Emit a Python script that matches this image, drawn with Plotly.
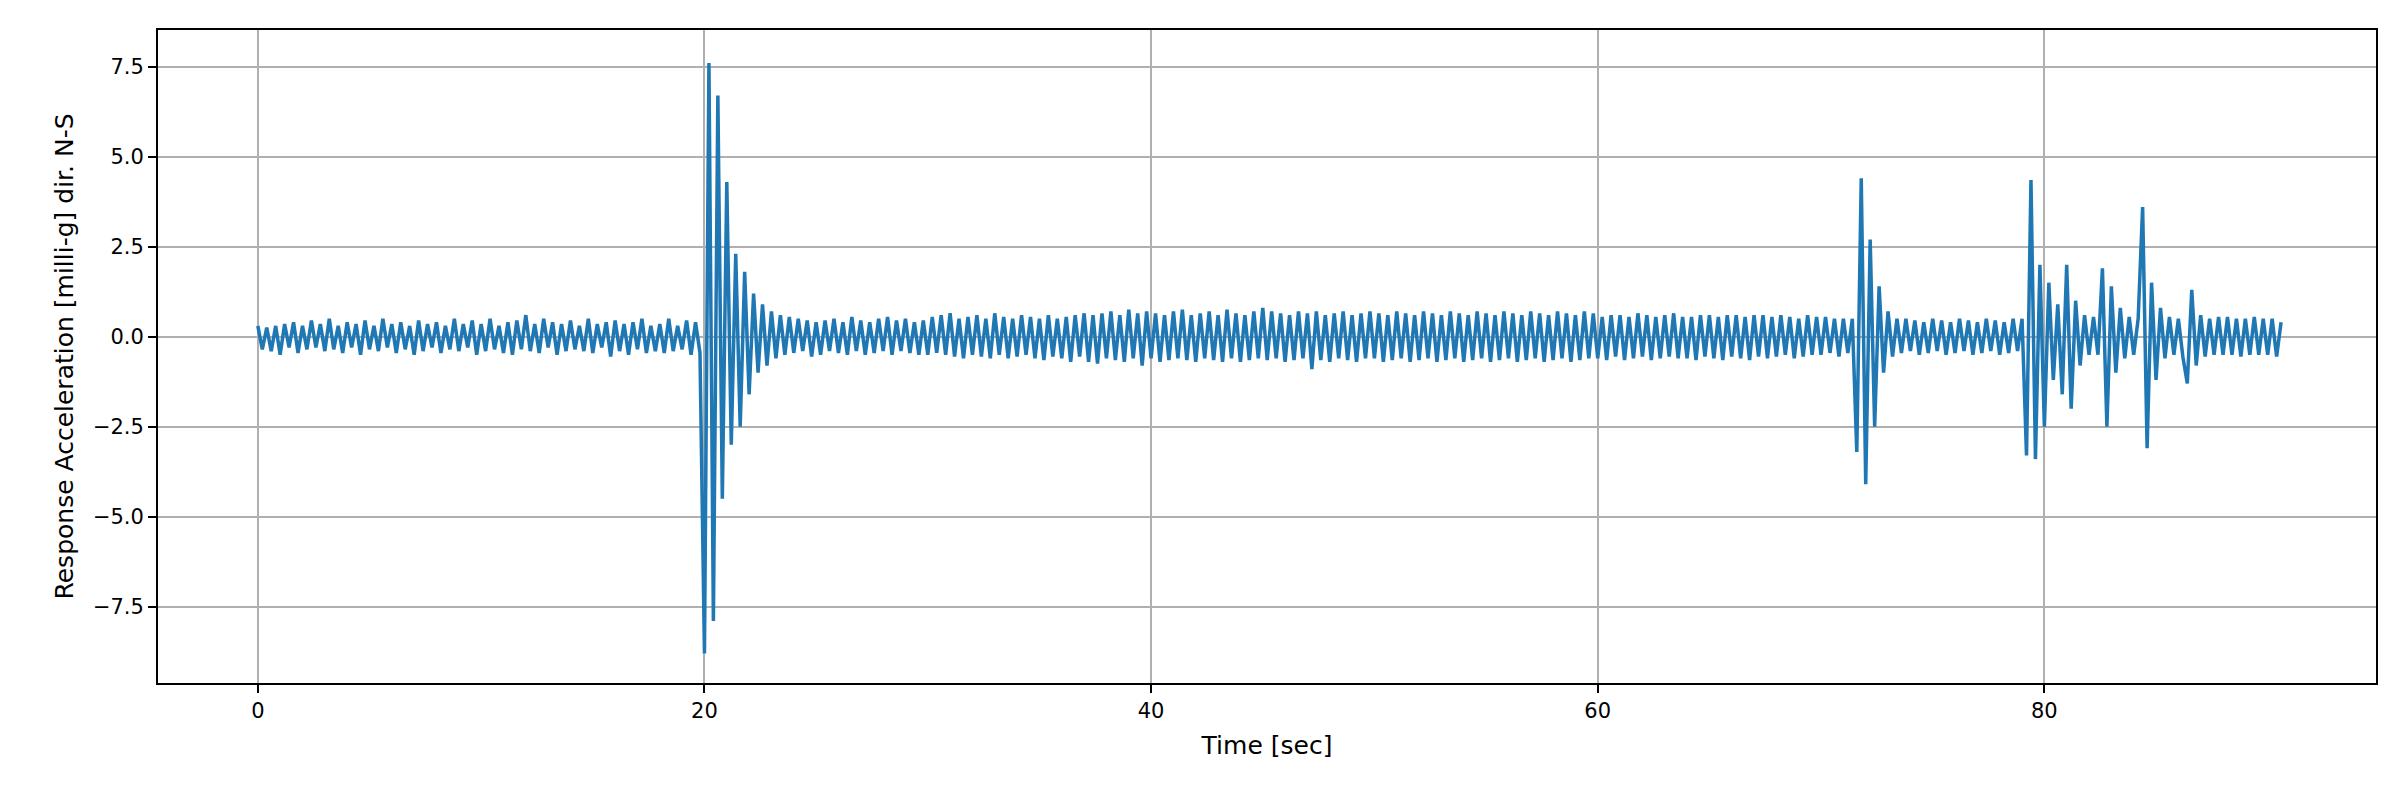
import numpy as np
import plotly.graph_objects as go

dt = 0.2
accel = [
 0.3,-0.35,0.25,-0.4,0.3,-0.5,0.35,-0.3,0.4,-0.45, 0.3,-0.35,0.45,-0.3,0.35,-0.4,0.5,-0.35,0.3,-0.45,
 0.4,-0.3,0.35,-0.5,0.45,-0.35,0.3,-0.4,0.5,-0.3, 0.35,-0.45,0.4,-0.35,0.3,-0.5,0.45,-0.4,0.35,-0.3,
 0.4,-0.45,0.3,-0.35,0.5,-0.4,0.35,-0.3,0.45,-0.5,
 0.35,-0.4,0.5,-0.35,0.3,-0.45,0.4,-0.5,0.45,-0.35, 0.6,-0.4,0.35,-0.45,0.5,-0.3,0.4,-0.5,0.35,-0.4,
 0.45,-0.35,0.3,-0.4,0.5,-0.45,0.35,-0.3,0.4,-0.55, 0.45,-0.4,0.35,-0.5,0.4,-0.35,0.5,-0.45,0.3,-0.4,
 0.35,-0.45,0.5,-0.4,0.3,-0.35,0.45,-0.5,0.4,-0.45,
 -8.8,7.6,-7.9,6.7,-4.5,4.3,-3.0,2.3,-2.5,1.8, -1.6,1.2,-1.0,0.9,-0.8,0.7,-0.6,0.6,-0.5,0.55,
 -0.45,0.5,-0.4,0.45,-0.55,0.4,-0.5,0.45,-0.4,0.5, -0.45,0.4,-0.5,0.55,-0.4,0.45,-0.5,0.4,-0.45,0.5,
 -0.4,0.55,-0.5,0.45,-0.4,0.5,-0.45,0.4,-0.5,0.45,
 -0.5,0.55,-0.45,0.6,-0.5,0.65,-0.55,0.5,-0.6,0.55, -0.5,0.6,-0.55,0.5,-0.6,0.65,-0.5,0.55,-0.6,0.5,
 -0.55,0.6,-0.5,0.55,-0.6,0.5,-0.65,0.6,-0.55,0.5, -0.6,0.55,-0.7,0.6,-0.55,0.65,-0.7,0.6,-0.75,0.65,
 -0.6,0.7,-0.65,0.6,-0.7,0.75,-0.6,0.65,-0.8,0.7,
 -0.6,0.65,-0.7,0.6,-0.65,0.7,-0.6,0.75,-0.65,0.6, -0.7,0.65,-0.6,0.7,-0.65,0.6,-0.7,0.75,-0.6,0.65,
 -0.7,0.6,-0.65,0.7,-0.6,0.8,-0.65,0.7,-0.6,0.65, -0.7,0.6,-0.65,0.7,-0.6,0.65,-0.9,0.7,-0.65,0.6,
 -0.7,0.65,-0.6,0.7,-0.65,0.6,-0.7,0.65,-0.6,0.7,
 -0.6,0.65,-0.7,0.6,-0.65,0.7,-0.6,0.65,-0.7,0.6, -0.65,0.7,-0.6,0.65,-0.7,0.6,-0.65,0.7,-0.6,0.65,
 -0.7,0.6,-0.65,0.7,-0.6,0.65,-0.7,0.6,-0.65,0.7, -0.6,0.65,-0.7,0.6,-0.65,0.7,-0.6,0.65,-0.7,0.6,
 -0.65,0.7,-0.6,0.65,-0.7,0.6,-0.65,0.7,-0.6,0.65,
 -0.6,0.55,-0.65,0.6,-0.55,0.6,-0.65,0.55,-0.6,0.65, -0.55,0.6,-0.65,0.55,-0.6,0.6,-0.55,0.65,-0.6,0.55,
 -0.6,0.55,-0.65,0.6,-0.55,0.6,-0.6,0.55,-0.65,0.6, -0.55,0.6,-0.6,0.55,-0.65,0.6,-0.55,0.6,-0.6,0.55,
 -0.55,0.6,-0.5,0.55,-0.6,0.5,-0.55,0.6,-0.5,0.55,
 -0.5,0.55,-0.45,0.5,-0.55,0.5,-0.45,0.5,-3.2,4.4, -4.1,2.7,-2.5,1.4,-1.0,0.7,-0.55,0.5,-0.45,0.5,
 -0.4,0.45,-0.5,0.4,-0.45,0.5,-0.4,0.45,-0.5,0.4, -0.45,0.5,-0.4,0.45,-0.5,0.4,-0.45,0.5,-0.4,0.45,
 -0.5,0.4,-0.45,0.5,-0.4,0.5,-3.3,4.35,-3.4,2.0,
 -2.5,1.5,-1.2,0.9,-1.6,2.0,-2.0,1.0,-0.8,0.6, -0.5,0.55,-0.5,1.9,-2.5,1.4,-1.0,0.8,-0.6,0.55,
 -0.5,0.5,3.6,-3.1,1.5,-1.2,0.8,-0.6,0.55,-0.5, 0.5,-0.55,-1.3,1.3,-0.8,0.6,-0.55,0.5,-0.5,0.55,
 -0.5,0.55,-0.5,0.5,-0.55,0.5,-0.5,0.55,-0.5,0.5,
 -0.5,0.5,-0.55,0.4,
]
time = np.arange(len(accel)) * dt

fig = go.Figure(go.Scatter(x=time, y=accel, mode="lines",
                           line=dict(color="#1f77b4", width=3.5)))
ax = dict(showline=True, linecolor="black", linewidth=1.8, mirror=True,
          ticks="outside", ticklen=8, tickcolor="black", tickwidth=1.5,
          showgrid=True, gridcolor="#b0b0b0", gridwidth=1.5, zeroline=False,
          tickfont=dict(size=21, color="black"))
fig.update_layout(
    width=2400, height=800, plot_bgcolor="white", paper_bgcolor="white",
    margin=dict(l=150, r=32, t=22, b=125),
    font=dict(family="DejaVu Sans", size=21, color="black"),
    showlegend=False,
    xaxis=dict(ax, range=[-4.47, 94.85], tickvals=[0, 20, 40, 60, 80],
               title=dict(text="Time [sec]", standoff=14)),
    yaxis=dict(ax, range=[-9.62, 8.52], tickvals=[-7.5, -5, -2.5, 0, 2.5, 5, 7.5],
               tickformat=".1f",
               title=dict(text="Response Acceleration [milli-g] dir. N-S", standoff=12)),
)
fig.write_html("out.html")
